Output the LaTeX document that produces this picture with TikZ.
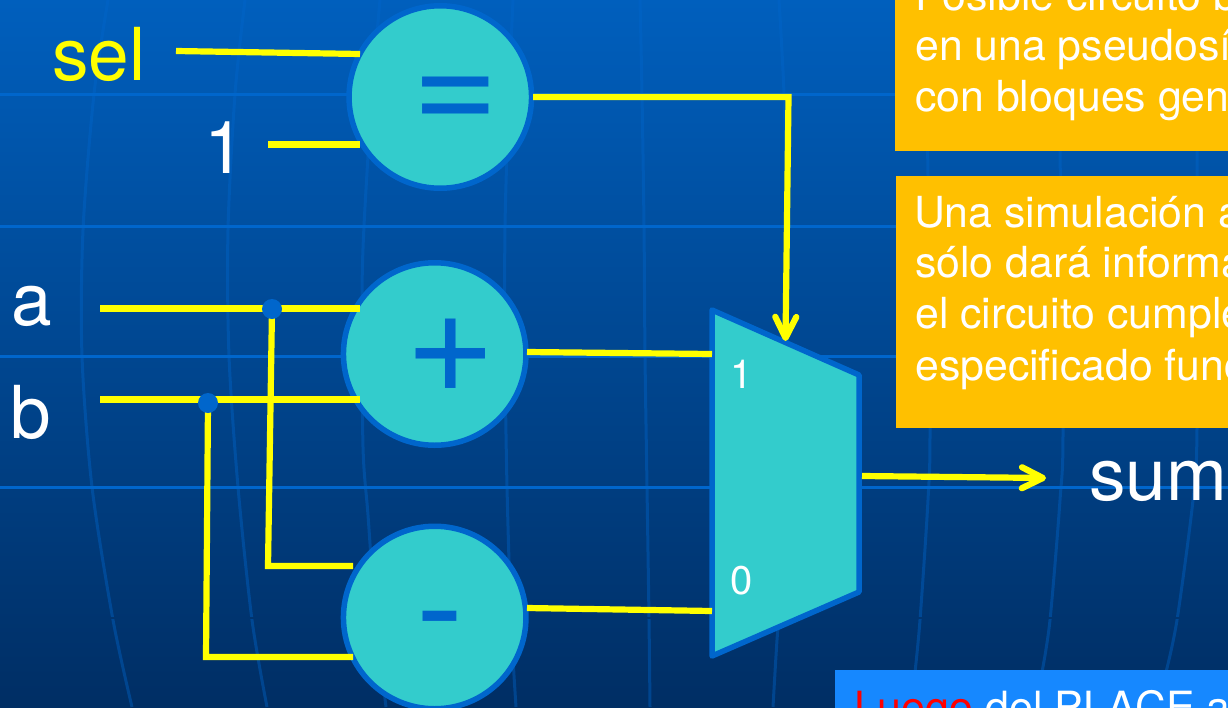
\documentclass[tikz,border=0pt]{standalone}
\usepackage{fontspec}
\setmainfont{TeX Gyre Heros}
\usetikzlibrary{arrows.meta}
\definecolor{bgt}{HTML}{005FBD}
\definecolor{bgb}{HTML}{002E64}
\colorlet{gapc}{bgb!87.4!bgt}
\definecolor{gridc}{HTML}{0066CC}
\definecolor{tealc}{HTML}{33CCCC}
\definecolor{edgec}{HTML}{0066CC}
\definecolor{wirec}{HTML}{FFFF00}
\definecolor{amberc}{HTML}{FFC000}
\definecolor{skyc}{HTML}{1688FF}
\tikzset{
  x=1pt,y=-1pt,
  hgrid/.style={gridc,line width=3pt},
  vgrid/.style={edgec,opacity=.4,line width=3pt},
  opcircle/.style={circle,draw=edgec,fill=tealc,line width=5.5pt,minimum size=182.5pt,inner sep=0pt},
  opsym/.style={anchor=center,inner sep=0pt,text=edgec,font=\fontsize{142}{142}\selectfont},
  wire/.style={wirec,line width=6.2pt},
  arrowwire/.style={wire,-{Straight Barb[length=21pt,width=21pt,round]}},
  dotc/.style={circle,fill=edgec,minimum size=20pt,inner sep=0pt},
  biglabel/.style={anchor=base west,inner sep=0pt,font=\fontsize{73}{73}\selectfont},
  muxlabel/.style={anchor=base west,inner sep=0pt,text=white,font=\fontsize{40}{40}\selectfont},
  boxtext/.style={anchor=base west,inner sep=0pt,text=white,font=\fontsize{42.8}{42.8}\selectfont},
  notebox/.style={fill=amberc},
}
\begin{document}
\begin{tikzpicture}
\useasboundingbox (0,0) rectangle (1228,707);
\clip (0,0) rectangle (1228,707);
% background
\shade[top color=bgt,bottom color=bgb] (0,0) rectangle (1228,707);
\foreach \yy in {94,226,356,487} \draw[hgrid] (0,\yy) -- (1228,\yy);
\draw[vgrid] plot[smooth] coordinates {(108,0)(94,94)(83,230)(82,356)(92,487)(113,620)(132,707)};
\draw[vgrid] plot[smooth] coordinates {(245,0)(235,94)(228,230)(229,356)(238,487)(252,620)(267,707)};
\draw[vgrid] plot[smooth] coordinates {(380,0)(372,94)(364,226)(362,300)(363,447)(368,515)(375,610)(386,707)};
\draw[vgrid] plot[smooth] coordinates {(513,0)(509,94)(505,226)(505,356)(507,487)(511,620)(516,707)};
\draw[vgrid] plot[smooth] coordinates {(640,0)(642,94)(644,226)(645,356)(647,487)(649,620)(650,707)};
\draw[vgrid] plot[smooth] coordinates {(779,0)(784,94)(787,226)(787,356)(783,560)(777,640)(773,707)};
\draw[vgrid] plot[smooth] coordinates {(927,150)(928,176)(930,428)(928,500)(920,620)(915,672)};
\draw[vgrid] plot[smooth] coordinates {(1060,150)(1063,428)(1060,500)(1050,620)(1042,672)};
\draw[vgrid] plot[smooth] coordinates {(1197,150)(1197,428)(1193,500)(1177,620)(1166,672)};
\draw[gapc,line width=1.5pt] (0,618) -- (1228,618);
% note boxes
\fill[notebox] (895,-5) rectangle (1230,151);
\fill[notebox] (896,176) rectangle (1230,428);
\fill[skyc] (835,670) rectangle (1230,710);
\node[boxtext] (n1) at (915,10) {Posible circuito b};
\node[boxtext] (n2) at (915,60) {en una pseudosí};
\node[boxtext] (n3) at (915,111) {con bloques gen};
\node[boxtext] (n4) at (914,227) {Una simulación a};
\node[boxtext] (n5) at (915,277) {sólo dará informa};
\node[boxtext] (n6) at (915,328) {el circuito cumple};
\node[boxtext] (n7) at (915,380) {especificado func};
\node[boxtext,font=\fontsize{43}{43}\selectfont] (n8) at (854,722) {\textcolor{red}{Luego} del PLACE a};
% operators
\node[opcircle] (eq) at (440.3,97) {};
\node[opcircle] (plus) at (434.7,354) {};
\node[opcircle] (minus) at (434.7,617.5) {};
\node[opsym,font=\fontsize{148}{148}\selectfont] (eqsym) at (455.8,104.5) {=};
\node[opsym,font=\fontsize{155}{155}\selectfont] (plussym) at (450.3,356) {+};
\node[opsym] (minussym) at (440,633) {-};
% multiplexer
\coordinate (m1) at (712,310);
\coordinate (m2) at (859,375);
\coordinate (m3) at (859,592);
\coordinate (m4) at (712,656);
\draw[edgec,fill=tealc,line width=5.5pt,line join=round] (m1) -- (m2) -- (m3) -- (m4) -- cycle;
\node[muxlabel] (mone) at (730,388) {1};
\node[muxlabel] (mzero) at (730,594) {0};
% labels
\node[biglabel,text=wirec] (sel) at (52,80) {sel};
\node[biglabel,text=white] (one) at (204,173) {1};
\node[biglabel,text=white] (a) at (11,325) {a};
\node[biglabel,text=white] (b) at (10,438) {b};
\node[biglabel,text=white] (sum) at (1089,500) {sum};
% connector ends
\coordinate (selS) at (176,51);
\coordinate (selE) at (360,54);
\coordinate (oneS) at (268,144.5);
\coordinate (oneE) at (360,144.5);
\coordinate (aS) at (100,308.5);
\coordinate (aE) at (360,308.5);
\coordinate (bS) at (100,399.5);
\coordinate (bE) at (360,399.5);
\coordinate (eqS) at (533,97);
\coordinate (eqC) at (788.5,97);
\coordinate (muxSel) at (785.5,341);
\coordinate (pS) at (527,352);
\coordinate (pE) at (712,354);
\coordinate (mS) at (527,608);
\coordinate (mE) at (712,611);
\coordinate (outS) at (862,476);
\coordinate (outE) at (1046,478);
\coordinate (aBc) at (268,566);
\coordinate (aBe) at (353,566);
\coordinate (bBc) at (206,657);
\coordinate (bBe) at (353,657);
\coordinate (da0) at (272,309);
\coordinate (db0) at (208,403);
% wires
\draw[wire] (selS) -- (selE);
\draw[wire] (oneS) -- (oneE);
\draw[wire] (aS) -- (aE);
\draw[wire] (bS) -- (bE);
\draw[arrowwire] (eqS) -- (eqC) -- (muxSel);
\draw[wire] (pS) -- (pE);
\draw[wire] (mS) -- (mE);
\draw[arrowwire] (outS) -- (outE);
\draw[wire] (da0) -- (aBc) -- (aBe);
\draw[wire] (db0) -- (bBc) -- (bBe);
\node[dotc] (da) at (da0) {};
\node[dotc] (db) at (db0) {};
\end{tikzpicture}
\end{document}
